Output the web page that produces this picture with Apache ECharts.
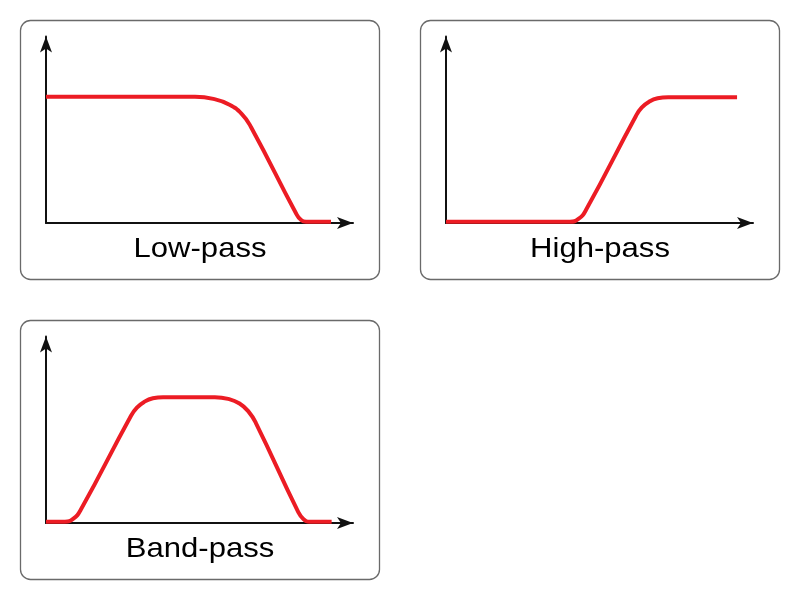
<!DOCTYPE html>
<html><head><meta charset="utf-8">
<script src="https://cdn.jsdelivr.net/npm/echarts@6/dist/echarts.min.js"></script>
<style>html,body{margin:0;padding:0;background:#fff}#c{width:800px;height:600px}</style>
</head><body><div id="c"></div>
<script>
// Panel titles
const panelTitles = ['Low-pass', 'High-pass', 'Band-pass'];

// Low-pass response (normalized frequency, gain; passband gain = 7)
const lowFreq = [0, 4.95, 5.56, 6.08, 6.50, 6.81, 8.31, 8.46, 8.64, 9.47];
const lowGain = [7, 7, 6.89, 6.58, 6.06, 5.33, 0.53, 0.19, 0.07, 0.07];

// High-pass response
const highFreq = [0, 4.12, 4.40, 4.65, 6.31, 6.50, 6.74, 7.03, 7.38, 9.67];
const highGain = [0.07, 0.07, 0.23, 0.72, 5.94, 6.40, 6.72, 6.92, 6.98, 6.98];

// Band-pass response
const bandFreq = [0, 0.63, 0.90, 1.15, 2.82, 3.02, 3.26, 3.55, 3.89, 5.12, 5.61, 6.05, 6.43, 6.73, 6.97, 8.37, 8.55, 8.77, 9.49];
const bandGain = [0.07, 0.07, 0.23, 0.72, 5.94, 6.40, 6.72, 6.92, 6.98, 6.98, 6.98, 6.89, 6.63, 6.18, 5.56, 0.65, 0.22, 0.07, 0.07];

const freqAxisMax = 10.2, gainAxisMax = 10.35;

function pairs(xs, ys) { return xs.map((x, i) => [x, ys[i]]); }
const seriesData = [pairs(lowFreq, lowGain), pairs(highFreq, highGain), pairs(bandFreq, bandGain)];

const layout = [
  { left: 46, top: 36.5, bx: 20.5, by: 20.5, tx: 200, ty: 249 },
  { left: 446, top: 36.5, bx: 420.5, by: 20.5, tx: 600, ty: 249 },
  { left: 46, top: 336.5, bx: 20.5, by: 320.5, tx: 200, ty: 549 }
];

const chart = echarts.init(document.getElementById('c'), null, { renderer: 'canvas' });

const axisCommon = (i, max) => ({
  type: 'value', gridIndex: i, min: 0, max: max,
  axisLine: { show: true, onZero: false, symbol: ['none', 'arrow'], symbolSize: [9, 16],
    lineStyle: { color: '#111', width: 2 } },
  axisTick: { show: false }, axisLabel: { show: false }, splitLine: { show: false }
});

const graphic = [];
layout.forEach((p, i) => {
  graphic.push({ type: 'rect', shape: { x: p.bx, y: p.by, width: 359, height: 259, r: 10 },
    style: { fill: 'none', stroke: '#6a6a6a', lineWidth: 1.3 }, silent: true });
  graphic.push({ type: 'text', x: p.tx, y: p.ty, scaleX: 1.09,
    style: { text: panelTitles[i], font: '28.5px "Liberation Sans", Arial, sans-serif', fill: '#000',
      align: 'center', verticalAlign: 'middle' }, silent: true });
});

chart.setOption({
  animation: false,
  backgroundColor: '#fff',
  grid: layout.map(p => ({ left: p.left, top: p.top, width: 307, height: 186.5 })),
  xAxis: layout.map((p, i) => axisCommon(i, freqAxisMax)),
  yAxis: layout.map((p, i) => axisCommon(i, gainAxisMax)),
  series: seriesData.map((d, i) => ({
    type: 'line', xAxisIndex: i, yAxisIndex: i, data: d, showSymbol: false, smooth: 0.5,
    silent: true, lineStyle: { color: '#ec1c24', width: 4 }
  })),
  graphic: graphic
});
</script></body></html>
